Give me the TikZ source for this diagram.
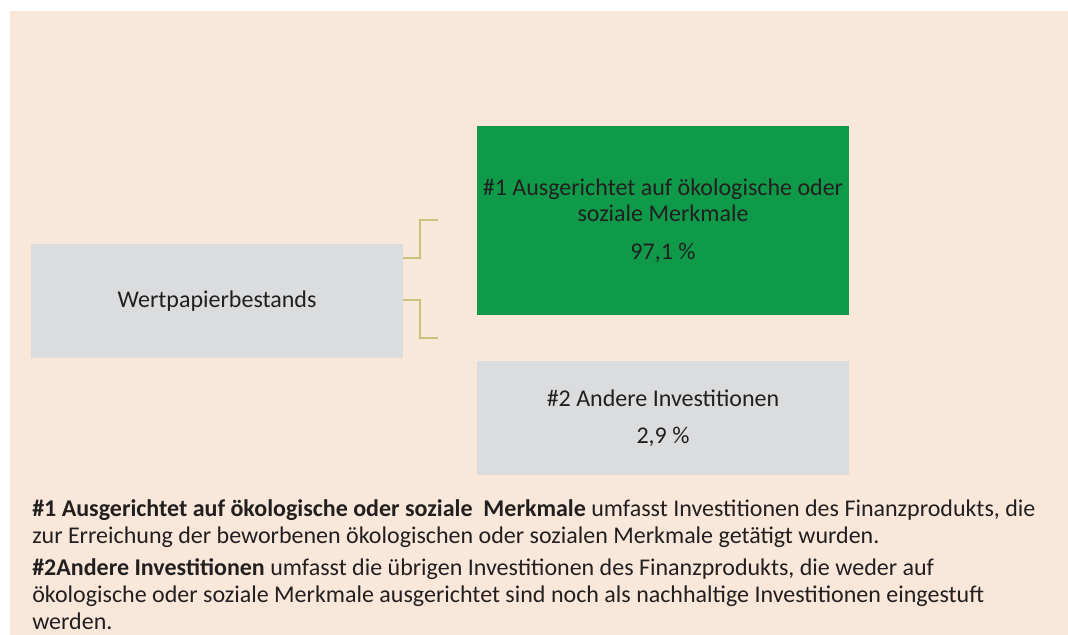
\documentclass[tikz,border=0pt]{standalone}
\usepackage{fontspec}
\setmainfont{Carlito}
\usetikzlibrary{calc}

\definecolor{beige}{HTML}{F9E8D9}
\definecolor{kastengrau}{HTML}{DBDCDE}
\definecolor{kastengruen}{HTML}{0E9A48}
\definecolor{klammergelb}{HTML}{C9C27A}
\definecolor{schrift}{HTML}{231F20}

\tikzset{
  kasten/.style={inner sep=0pt, text=schrift, align=center, font=\fontsize{18}{19.5}\selectfont},
  klammer/.style={klammergelb, line width=1.5pt},
  erklaerung/.style={inner sep=0pt, text=schrift, align=left, anchor=north west, font=\fontsize{18}{20.2}\selectfont}
}

\begin{document}
\begin{tikzpicture}[x=0.75pt, y=-0.75pt]
				% hintergrund
				\useasboundingbox[fill=white] (0, 0) rectangle (1068, 635);
				\fill[beige] (10, 11) rectangle (1068, 635);
				
				% kaesten
				\node[kasten, fill=kastengrau, minimum width=279pt, minimum height=85.5pt] (bestand) at (217, 301) {Wertpapierbestands};
				\node[kasten, fill=kastengruen, minimum width=279pt, minimum height=141.75pt] (esg) at (663, 220.5) {\#1 Ausgerichtet auf ökologische oder\\soziale Merkmale\\[9pt]97,1 \%};
				\node[kasten, fill=kastengrau, minimum width=279pt, minimum height=85.5pt] (andere) at (663, 418) {\#2 Andere Investitionen\\[8pt]2,9 \%};
				
				% klammern
				\coordinate (k1) at (438, 220);
				\coordinate (k2) at (438, 338);
				\draw[klammer] ($(bestand.north east)+(0, 14)$) -- ++(17, 0) |- (k1);
				\draw[klammer] ($(bestand.south east)+(0, -58)$) -- ++(17, 0) |- (k2);
				
				% erklaerungen
				\node[erklaerung] (erkl1) at (32, 499) {\textbf{\#1 Ausgerichtet auf ökologische oder soziale~ Merkmale} umfasst Investitionen des Finanzprodukts, die\\zur Erreichung der beworbenen ökologischen oder sozialen Merkmale getätigt wurden.};
				\node[erklaerung] (erkl2) at (32, 558) {\textbf{\#2Andere Investitionen} umfasst die übrigen Investitionen des Finanzprodukts, die weder auf\\ökologische oder soziale Merkmale ausgerichtet sind noch als nachhaltige Investitionen eingestuft\\werden.};
\end{tikzpicture}
\end{document}
